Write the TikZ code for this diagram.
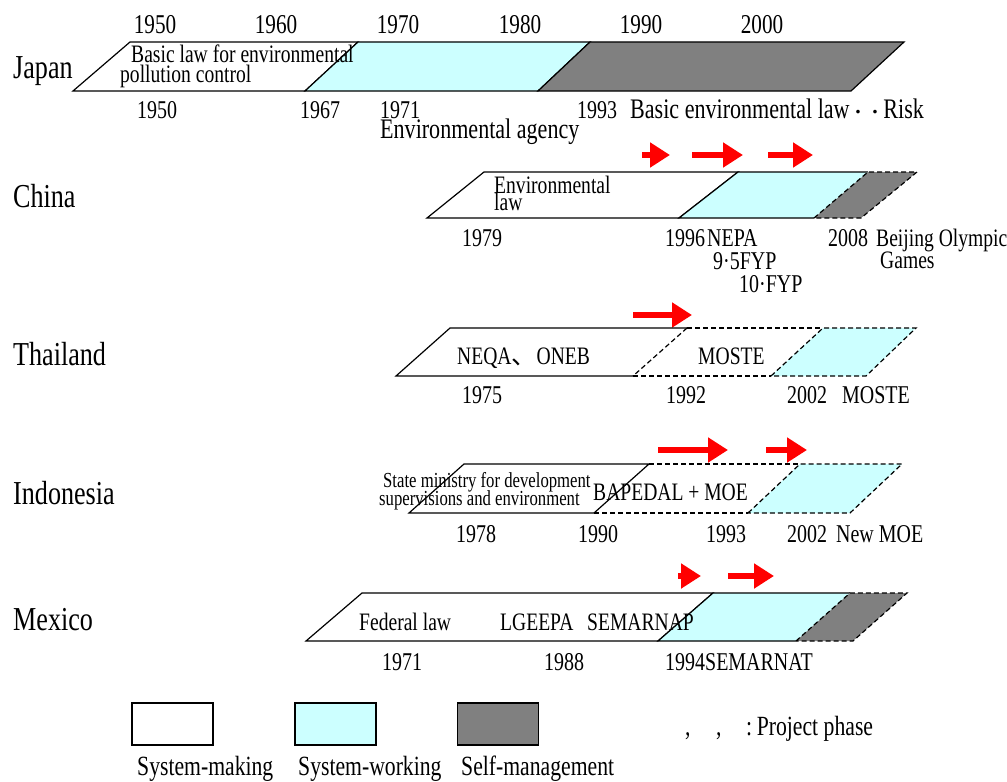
\documentclass[tikz,border=0pt]{standalone}
\usepackage{fontspec}
\setmainfont[FakeStretch=0.78]{Liberation Serif}
\newfontfamily\cjkfont{Noto Sans CJK JP}
\usetikzlibrary{arrows.meta}
\definecolor{workcyan}{HTML}{CCFFFF}
\definecolor{selfgray}{HTML}{808080}
\tikzset{
  bar/.style={line width=1.2bp, line join=miter},
  dsh/.style={line width=1.2bp, dash pattern=on 5bp off 3bp},
  lbl/.style={anchor=base west, inner sep=0pt, font=\fontsize{25.2}{27}\selectfont},
  yr/.style={anchor=base west, inner sep=0pt, font=\fontsize{25.7}{27}\selectfont},
  topyr/.style={anchor=base, inner sep=0pt, font=\fontsize{27.3}{29}\selectfont},
  jp/.style={anchor=base west, inner sep=0pt, font=\fontsize{28.4}{30}\selectfont},
  sm/.style={anchor=base west, inner sep=0pt, font=\fontsize{21.5}{23}\selectfont},
  cty/.style={anchor=base west, inner sep=0pt, font=\fontsize{33.6}{35}\selectfont},
  leg/.style={anchor=base west, inner sep=0pt, font=\fontsize{27.9}{29}\selectfont},
  legbox/.style={draw, line width=1.4bp, minimum width=81bp, minimum height=42bp, inner sep=0pt},
  phase/.style={draw=red, line width=6bp, -{Triangle[length=20bp,width=24bp]}},
}
\begin{document}
\begin{tikzpicture}[x=1bp, y=-1bp]
\useasboundingbox (0,0) rectangle (1007,782);
\fill[white] (0,0) rectangle (1007,782);

% ---------- decade scale ----------
\node[topyr] (y1950) at (155,34) {1950};
\node[topyr] (y1960) at (276,34) {1960};
\node[topyr] (y1970) at (398,34) {1970};
\node[topyr] (y1980) at (520,34) {1980};
\node[topyr] (y1990) at (641,34) {1990};
\node[topyr] (y2000) at (762,34) {2000};

% ---------- Japan ----------
\filldraw[bar, fill=white] (73,91) -- (130,42) -- (358,42) -- (305,91) -- cycle;
\filldraw[bar, fill=workcyan] (305,91) -- (358,42) -- (590,42) -- (538,91) -- cycle;
\filldraw[bar, fill=selfgray] (538,91) -- (590,42) -- (904,42) -- (851,91) -- cycle;
\node[cty] (japan) at (13,79) {Japan};
\node[lbl] (jpin1) at (131,63) {Basic law for environmental};
\node[lbl] (jpin2) at (120,83) {pollution control};
\node[yr] (jp1950) at (137,118) {1950};
\node[yr] (jp1967) at (300,118) {1967};
\node[yr] (jp1971) at (380,118) {1971};
\node[jp] (jpagency) at (380,138) {Environmental agency};
\node[yr] (jp1993) at (577,118) {1993};
\node[jp] (jpbasic) at (630,118)
  {Basic environmental law{\cjkfont\fontsize{17}{19}\selectfont ・・}Risk};

% ---------- China ----------
\coordinate (cn1a) at (642,155); \coordinate (cn1b) at (670,155);
\coordinate (cn2a) at (692,155); \coordinate (cn2b) at (743,155);
\coordinate (cn3a) at (768,155); \coordinate (cn3b) at (813,155);
\draw[phase] (cn1a) -- (cn1b);
\draw[phase] (cn2a) -- (cn2b);
\draw[phase] (cn3a) -- (cn3b);
\filldraw[bar, fill=white] (427,218) -- (484,172) -- (738,172) -- (679,218) -- cycle;
\fill[workcyan] (679,218) -- (738,172) -- (868,172) -- (814,218) -- cycle;
\draw[bar] (814,218) -- (679,218) -- (738,172) -- (868,172);
\filldraw[dsh, fill=selfgray] (814,218) -- (868,172) -- (917,172) -- (861,218) -- cycle;
\node[cty] (china) at (13,207) {China};
\node[lbl] (cnin1) at (494,193) {Environmental};
\node[lbl] (cnin2) at (494,210) {law};
\node[yr] (cn1979) at (462,246) {1979};
\node[yr] (cn1996) at (665,246) {1996\hspace{2bp}NEPA};
\node[yr] (cnfyp9) at (713,269) {9·5FYP};
\node[yr] (cnfyp10) at (739,292) {10·FYP};
\node[yr] (cn2008) at (828,246) {2008};
\node[lbl] (cnbj1) at (876,246) {Beijing Olympic};
\node[lbl] (cnbj2) at (880,268) {Games};

% ---------- Thailand ----------
\coordinate (th1a) at (633,315); \coordinate (th1b) at (692,315);
\draw[phase] (th1a) -- (th1b);
\fill[white] (396,376) -- (450,328) -- (687,328) -- (633,376) -- cycle;
\draw[bar] (633,376) -- (396,376) -- (450,328) -- (687,328);
\draw[dsh] (687,328) -- (633,376);
\draw[dsh] (687,328) -- (823,328);
\draw[dsh] (633,376) -- (771,376);
\filldraw[dsh, fill=workcyan] (771,376) -- (823,328) -- (916,328) -- (866,376) -- cycle;
\node[cty] (thailand) at (13,365) {Thailand};
\node[lbl] (thin1) at (457,364) {NEQA{\cjkfont 、}ONEB};
\node[lbl] (thin2) at (698,364) {MOSTE};
\node[yr] (th1975) at (462,403) {1975};
\node[yr] (th1992) at (666,403) {1992};
\node[yr] (th2002) at (787,403) {2002};
\node[yr] (thmoste) at (842,403) {MOSTE};

% ---------- Indonesia ----------
\coordinate (id1a) at (658,450); \coordinate (id1b) at (728,450);
\coordinate (id2a) at (766,450); \coordinate (id2b) at (807,450);
\draw[phase] (id1a) -- (id1b);
\draw[phase] (id2a) -- (id2b);
\filldraw[bar, fill=white] (409,513) -- (464,464) -- (649,464) -- (594,513) -- cycle;
\draw[dsh] (649,464) -- (800,464);
\draw[dsh] (594,513) -- (748,513);
\filldraw[dsh, fill=workcyan] (748,513) -- (800,464) -- (902,464) -- (850,513) -- cycle;
\node[cty] (indonesia) at (13,504) {Indonesia};
\node[sm] (idin1) at (383,487) {State ministry for development};
\node[sm] (idin2) at (379,505) {supervisions and environment};
\node[lbl] (idin3) at (593,500) {BAPEDAL + MOE};
\node[yr] (id1978) at (456,542) {1978};
\node[yr] (id1990) at (578,542) {1990};
\node[yr] (id1993) at (706,542) {1993};
\node[yr] (id2002) at (787,542) {2002};
\node[yr] (idmoe) at (836,542) {New MOE};

% ---------- Mexico ----------
\coordinate (mx1a) at (678,576); \coordinate (mx1b) at (701,576);
\coordinate (mx2a) at (728,576); \coordinate (mx2b) at (774,576);
\draw[phase] (mx1a) -- (mx1b);
\draw[phase] (mx2a) -- (mx2b);
\filldraw[bar, fill=white] (306,641) -- (362,593) -- (713,593) -- (658,641) -- cycle;
\fill[workcyan] (658,641) -- (713,593) -- (850,593) -- (796,641) -- cycle;
\draw[bar] (796,641) -- (658,641) -- (713,593) -- (850,593);
\filldraw[dsh, fill=selfgray] (796,641) -- (850,593) -- (907,593) -- (853,641) -- cycle;
\node[cty] (mexico) at (13,630) {Mexico};
\node[lbl] (mxin1) at (359,630) {Federal law};
\node[lbl] (mxin2) at (500,630) {LGEEPA};
\node[lbl] (mxin3) at (587,630) {SEMARNAP};
\node[yr] (mx1971) at (382,670) {1971};
\node[yr] (mx1988) at (544,670) {1988};
\node[yr] (mx1994) at (665,670) {1994SEMARNAT};

% ---------- legend ----------
\node[legbox, fill=white] (lgmake) at (172.5,724) {};
\node[legbox, fill=workcyan] (lgwork) at (335.5,724) {};
\node[legbox, fill=selfgray] (lgself) at (498,724) {};
\node[leg] (lgmaket) at (137,775) {System-making};
\node[leg] (lgworkt) at (298,775) {System-working};
\node[leg] (lgselft) at (461,775) {Self-management};
\node[leg] (lgc1) at (685,735) {,};
\node[leg] (lgc2) at (716,735) {,};
\node[leg] (lgphase) at (746,735) {:\,Project phase};
\end{tikzpicture}
\end{document}
